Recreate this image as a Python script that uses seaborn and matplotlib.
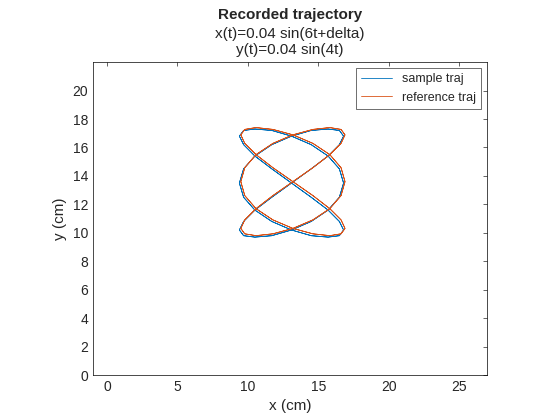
import matplotlib
matplotlib.use("Agg")
import matplotlib.pyplot as plt
import seaborn as sns
import pandas as pd

# periodic samples (x repeats every 16 samples, y every 24)
x_ref_cycle = [13.2, 14.62, 15.82, 16.62, 16.9, 16.62, 15.82, 14.62, 13.2, 11.78, 10.58, 9.78, 9.5, 9.78, 10.58, 11.78]
y_ref_cycle = [13.6, 14.58, 15.5, 16.29, 16.89, 17.27, 17.4, 17.27, 16.89, 16.29, 15.5, 14.58,
               13.6, 12.62, 11.7, 10.91, 10.31, 9.93, 9.8, 9.93, 10.31, 10.91, 11.7, 12.62]
x_smp_cycle = [13.1, 14.5, 15.7, 16.5, 16.8, 16.5, 15.7, 14.5, 13.1, 11.7, 10.5, 9.7, 9.4, 9.7, 10.5, 11.7]
y_smp_cycle = [13.5, 14.5, 15.4, 16.2, 16.8, 17.2, 17.3, 17.2, 16.8, 16.2, 15.4, 14.5,
               13.5, 12.5, 11.6, 10.8, 10.2, 9.8, 9.7, 9.8, 10.2, 10.8, 11.6, 12.5]

x_ref = x_ref_cycle * 6 + x_ref_cycle[:1]
y_ref = y_ref_cycle * 4 + y_ref_cycle[:1]
x_smp = x_smp_cycle * 6 + x_smp_cycle[:1]
y_smp = y_smp_cycle * 4 + y_smp_cycle[:1]

sns.set_style("white")
plt.rcParams['font.family'] = ['Liberation Sans', 'DejaVu Sans']
fig = plt.figure(figsize=(5.6, 4.2), dpi=100)
ax = fig.add_axes([0.166, 0.107, 0.704, 0.745])

df = pd.concat([
    pd.DataFrame({"x": x_smp, "y": y_smp, "s": "sample traj", "o": range(len(x_smp))}),
    pd.DataFrame({"x": x_ref, "y": y_ref, "s": "reference traj", "o": range(len(x_ref))}),
])
sns.lineplot(data=df, x="x", y="y", hue="s", units="s", estimator=None, sort=False,
             palette={"sample traj": "#0072BD", "reference traj": "#D95319"},
             linewidth=0.6, ax=ax)

ax.set_xlim(-1, 27)
ax.set_ylim(0, 22)
ax.set_xticks(range(0, 26, 5))
ax.set_yticks(range(0, 21, 2))
ax.set_xlabel("x (cm)", fontsize=11)
ax.set_ylabel("y (cm)", fontsize=11)
ax.tick_params(labelsize=10, direction="in", length=3, width=0.5, top=True, right=True)
for sp in ax.spines.values():
    sp.set_color("black"); sp.set_linewidth(0.5)
ax.set_title("x(t)=0.04 sin(6t+delta)\ny(t)=0.04 sin(4t)", fontsize=11)
fig.text(0.518, 0.955, "Recorded trajectory", ha="center", fontsize=11, fontweight="bold")
leg = ax.legend(loc="upper right", fontsize=9, frameon=True, fancybox=False, handlelength=2.5)
leg.get_frame().set_edgecolor("black")
leg.get_frame().set_linewidth(0.5)
leg.set_title(None)
fig.savefig("out.png", dpi=100)
